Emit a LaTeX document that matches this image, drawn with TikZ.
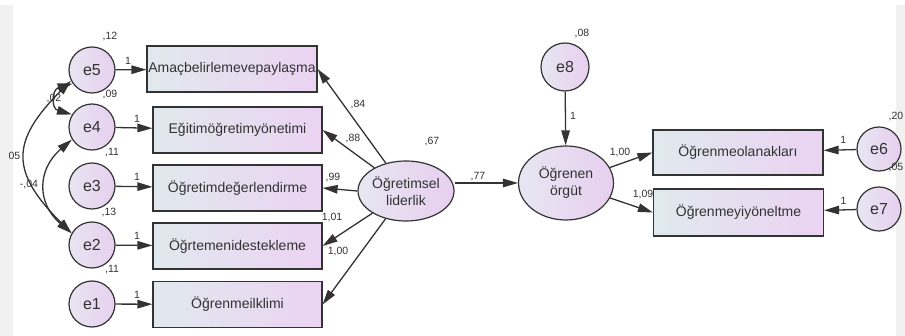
\documentclass[tikz,border=0pt]{standalone}
\usepackage{fontspec}
\setmainfont{Liberation Sans}
\usepackage{xcolor}
\definecolor{ink}{HTML}{333333}
\definecolor{frame}{HTML}{F1F1F1}
\definecolor{boxl}{HTML}{E1E9EE}
\definecolor{boxr}{HTML}{EBD3F2}
\definecolor{blobl}{HTML}{E8E6F2}
\definecolor{blobr}{HTML}{E7CFEF}
\usetikzlibrary{arrows.meta,shapes.geometric,positioning}

\begin{document}
\begin{tikzpicture}[
      x=1pt, y=-1pt,
      >={Triangle[length=15pt,width=8.5pt]},
      every node/.style={font=\fontsize{14}{17}\selectfont, text=ink},
      obs/.style={
        draw=ink, line width=1.2pt, left color=boxl, right color=boxr,
        minimum width=169pt, minimum height=46pt, inner sep=0pt
      },
      err/.style={
        circle, draw=ink, line width=1.2pt, left color=blobl, right color=blobr,
        minimum size=46pt, inner sep=0pt, font=\fontsize{16}{18}\selectfont
      },
      lat/.style={
        ellipse, draw=ink, line width=1.2pt, left color=blobl, right color=blobr,
        inner sep=0pt, align=center
      },
      est/.style={font=\fontsize{10.5}{12}\selectfont, inner sep=0pt},
      reg/.style={->, line width=1.3pt, draw=ink},
      cov/.style={<->, line width=1.3pt, draw=ink},
    ]
      % canvas and grey side strips
      \useasboundingbox (0,0) rectangle (905,336);
      \fill[white] (0,0) rectangle (905,336);
      \fill[frame] (0,5) rectangle (13,336);
      \fill[frame] (896,5) rectangle (905,336);

      % error terms and indicators, left block
      \node[err] (e5) at (92,70) {e5};
      \node[err] (e4) at (92,127) {e4};
      \node[err] (e3) at (92,186) {e3};
      \node[err] (e2) at (92,245) {e2};
      \node[err] (e1) at (92,304) {e1};
      \node[obs, minimum width=170pt] (b5) at (232,69) {Amaçbelirlemevepaylaşma};
      \node[obs] (b4) at (237.5,130) {Eğitimöğretimyönetimi};
      \node[obs] (b3) at (237.5,188) {Öğretimdeğerlendirme};
      \node[obs] (b2) at (237.5,246) {Öğrtemenidestekleme};
      \node[obs] (b1) at (237.5,304.5) {Öğrenmeilklimi};

      % latent variables
      \node[lat, minimum width=96pt, minimum height=60pt] (lider) at (406,191) {Öğretimsel\\liderlik};
      \node[lat, minimum width=95pt, minimum height=74pt] (orgut) at (566,183) {Öğrenen\\örgüt};
      \node[err, minimum size=48pt] (e8) at (565,67) {e8};

      % right block
      \node[obs, minimum width=170pt, minimum height=45pt] (b6) at (738,152.5) {Öğrenmeolanakları};
      \node[obs, minimum width=170pt, minimum height=47pt] (b7) at (738.5,212.5) {Öğrenmeyiyöneltme};
      \node[err, minimum size=44pt] (e6) at (879,149) {e6};
      \node[err, minimum size=44pt] (e7) at (879,209) {e7};

      % error paths
      \foreach \i/\p in {5/.4, 4/.58, 3/.58, 2/.58, 1/.58}
        \draw[reg] (e\i) -- (b\i) node[est, pos=\p, above=5pt] (one\i) {1};
      \draw[reg] (e6) -- (b6) node[est, pos=.4, above=6pt] (one6) {1};
      \draw[reg] (e7) -- (b7) node[est, pos=.4, above=5pt] (one7) {1};
      \draw[reg] (e8) -- (orgut) node[est, pos=.45, right=4pt] (one8) {1};

      % covariances
      \draw[cov] (e5.215) .. controls +(-21,6) and +(-21,-6) .. (e4.148);
      \draw[cov] (e5.207) .. controls +(-61,61) and +(-61,-61) .. (e2.150);
      \draw[cov] (e4.212) .. controls +(-35,30) and +(-35,-30) .. (e2.150);

      % loadings
      \draw[reg] (lider) -- (b5.east);
      \draw[reg] (lider) -- (b4.east);
      \draw[reg] (lider.west) -- (b3.east);
      \draw[reg] (lider) -- (b2.east);
      \draw[reg] (lider) -- (b1.east);
      \draw[reg] (lider.east |- orgut.west) -- (orgut.west);
      \draw[reg] (orgut) -- (b6.west);
      \draw[reg] (orgut) -- (b7.west);

      % estimates
      \node[est] (v5) at (110,37) {,12};
      \node[est] (v4) at (110,95) {,09};
      \node[est] (v3) at (112,153) {,11};
      \node[est] (v2) at (109,213) {,13};
      \node[est] (v1) at (112,270) {,11};
      \node[est] (c54) at (54,99) {,02};
      \node[est] (c52) at (14.5,156) {05};
      \node[est] (c42) at (29,185) {-,04};
      \node[est] (l5) at (358,105) {,84};
      \node[est] (l4) at (353,139) {,88};
      \node[est] (l3) at (333,178) {,99};
      \node[est] (l2) at (332,218) {1,01};
      \node[est] (l1) at (338,252) {1,00};
      \node[est] (vl) at (432,142) {,67};
      \node[est] (g) at (478,177) {,77};
      \node[est] (v8) at (582,34) {,08};
      \node[est] (l6) at (620,153) {1,00};
      \node[est] (l7) at (643,195) {1,09};
      \node[est] (v6) at (896,117) {,20};
      \node[est] (v7) at (896,168) {,05};
    \end{tikzpicture}
\end{document}
